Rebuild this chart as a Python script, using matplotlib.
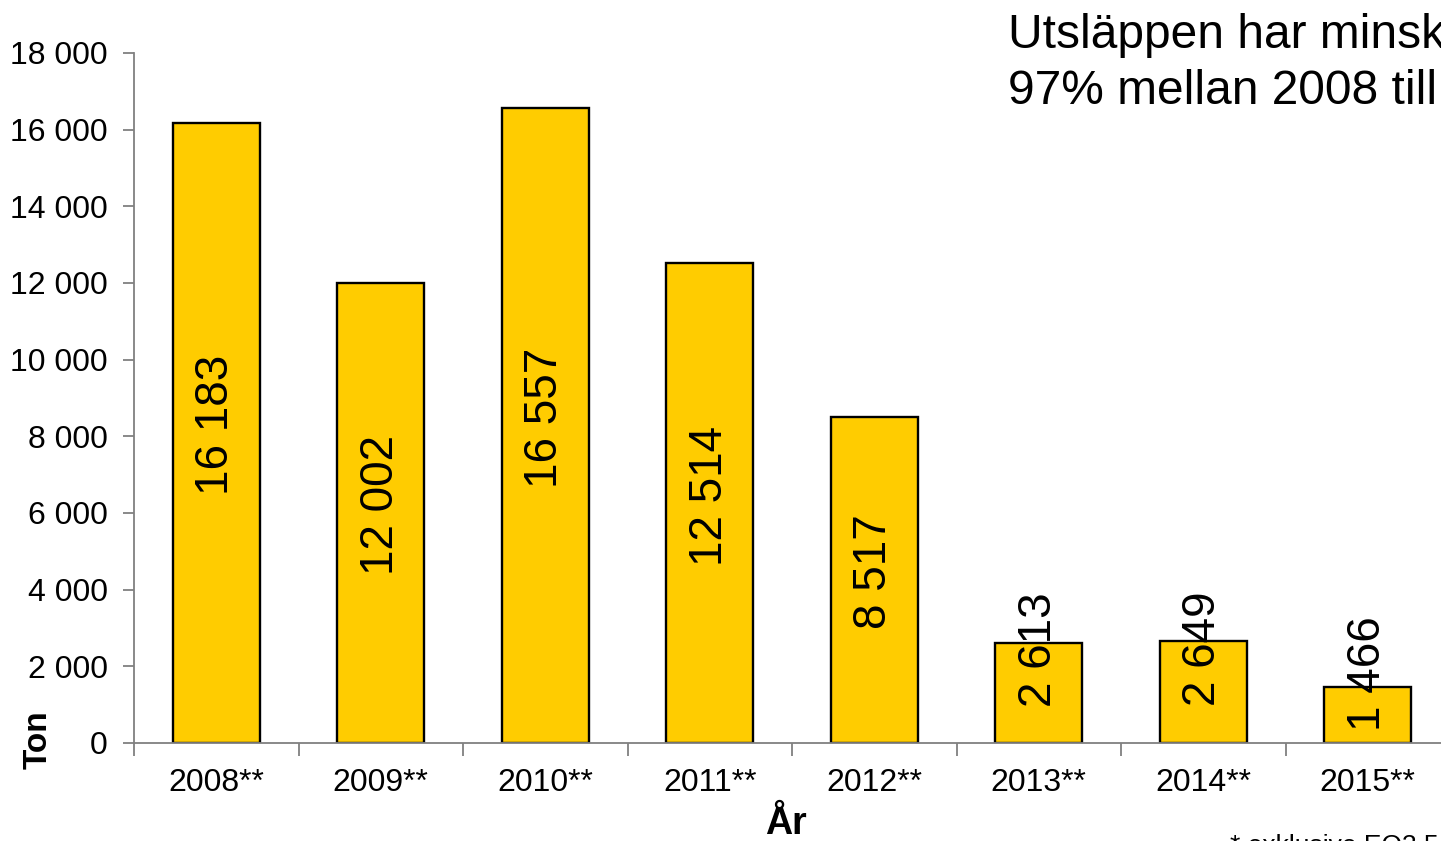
import matplotlib.pyplot as plt
import numpy as np

# data
years = ['2008**', '2009**', '2010**', '2011**', '2012**', '2013**', '2014**', '2015**']
tons = [16183, 12002, 16557, 12514, 8517, 2613, 2649, 1466]
title_lines = ['Utsläppen har minskat', '97% mellan 2008 till 2015']
footnote = '* exklusive EO3 5'

plt.rcParams['font.family'] = ['Liberation Sans', 'DejaVu Sans']


def fmt(v):
    return '{:,}'.format(int(v)).replace(',', ' ')


def main():
    fig = plt.figure(figsize=(14.41, 8.41), dpi=100)
    ax = fig.add_axes([134 / 1441, 98 / 841, 1316 / 1441, 690 / 841])

    x = np.arange(len(years))
    ax.bar(x, tons, width=0.53, color='#FFCC00', edgecolor='black', linewidth=1.7, zorder=2)

    # labels inside bars, rotated like in the original
    for xi, v in zip(x, tons):
        ly = v / 2 + 200 if v > 5000 else v * 0.55 + 1000
        ax.text(xi, ly, fmt(v), rotation=90, ha='center', va='center',
                fontsize=33, color='black', zorder=3)

    ax.set_xlim(-0.5, len(years) - 0.5)
    ax.set_ylim(0, 18000)
    ax.set_yticks(np.arange(0, 18001, 2000))
    ax.set_yticklabels([fmt(t) for t in np.arange(0, 18001, 2000)])
    ax.set_xticks(x)
    ax.set_xticklabels(years)
    ax.set_xticks(np.arange(-0.5, len(years)), minor=True)

    ax.tick_params(axis='y', labelsize=23, length=8, width=1.3, color='#808080', pad=11)
    ax.tick_params(axis='x', which='major', labelsize=23, length=0, pad=18)
    ax.tick_params(axis='x', which='minor', length=9, width=1.3, color='#808080')

    for s in ['top', 'right']:
        ax.spines[s].set_visible(False)
    for s in ['left', 'bottom']:
        ax.spines[s].set_color('#808080')
        ax.spines[s].set_linewidth(1.3)

    fig.text(38 / 1441, 1 - 740 / 841, 'Ton', rotation=90, ha='center', va='center',
             fontsize=24, fontweight='bold')
    fig.text(786 / 1441, 1 - 806 / 841, 'År', ha='center', va='top',
             fontsize=27, fontweight='bold')
    fig.text(1008 / 1441, 1 - 48 / 841, title_lines[0], ha='left', va='baseline', fontsize=34.5)
    fig.text(1008 / 1441, 1 - 104 / 841, title_lines[1], ha='left', va='baseline', fontsize=34.5)
    fig.text(1230 / 1441, 1 - 834 / 841, footnote, ha='left', va='top', fontsize=19)

    fig.savefig('out.png', dpi=100)


if __name__ == "__main__":
    main()
